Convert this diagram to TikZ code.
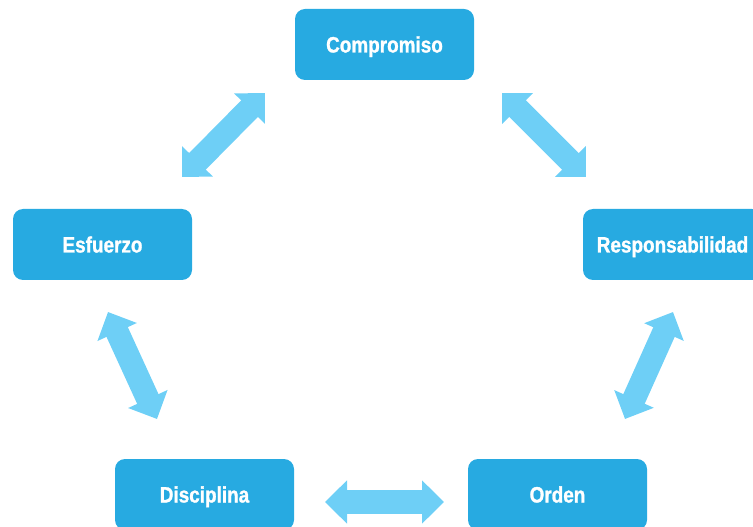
\documentclass[tikz,border=0pt]{standalone}
\usepackage{fontspec}
\setmainfont{Liberation Sans}[FakeStretch=0.85, BoldFeatures={FakeBold=1.2}]
\usetikzlibrary{arrows.meta}
\definecolor{boxblue}{RGB}{39,170,225}
\definecolor{arrowblue}{RGB}{110,207,246}
\begin{document}
\begin{tikzpicture}[x=0.75pt,y=-0.75pt,
  box/.style={fill=boxblue, rounded corners=7.5pt, minimum width=134.25pt,
    minimum height=53.25pt, inner sep=0pt, text height=12pt, text depth=0pt,
    text=white, font=\bfseries\fontsize{16.7}{20}\selectfont},
  dbl/.style={draw=arrowblue, line width=17.6pt,
    {Triangle[length=16.5pt,width=31.5pt]}-{Triangle[length=16.5pt,width=31.5pt]}}]
\useasboundingbox (0,0) rectangle (753,527);
\clip (0,0) rectangle (753,527);
\node[box] (c) at (384.5,44.5) {Compromiso};
\node[box] (e) at (102.5,244.5) {Esfuerzo};
\node[box] (r) at (672.5,244.5) {Responsabilidad};
\node[box] (d) at (204.5,494.5) {Disciplina};
\node[box] (o) at (557.5,494.5) {Orden};
\coordinate (a1s) at (182,177); \coordinate (a1e) at (265,93);
\coordinate (a2s) at (502,93);  \coordinate (a2e) at (586,177);
\coordinate (a3s) at (108,312); \coordinate (a3e) at (157,419);
\coordinate (a4s) at (673,312); \coordinate (a4e) at (625,419);
\coordinate (a5s) at (325,502); \coordinate (a5e) at (444,502);
\draw[dbl] (a1s) -- (a1e);
\draw[dbl] (a2s) -- (a2e);
\draw[dbl] (a3s) -- (a3e);
\draw[dbl] (a4s) -- (a4e);
\draw[dbl] (a5s) -- (a5e);
\end{tikzpicture}
\end{document}
